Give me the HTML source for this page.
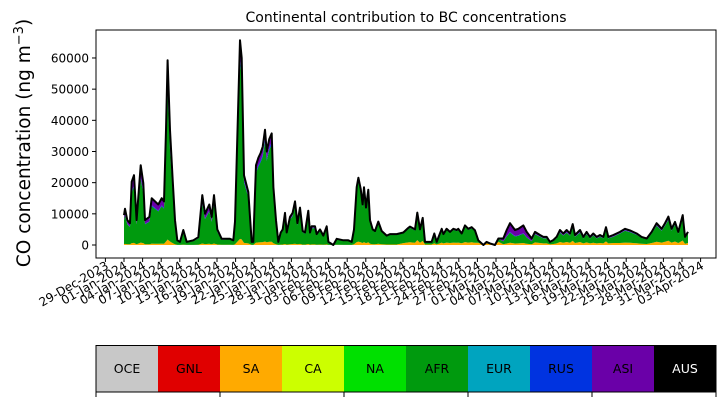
<!DOCTYPE html>
<html><head><meta charset="utf-8"><style>
body{margin:0;background:#fff;}
svg{display:block;font-family:"DejaVu Sans","Liberation Sans",sans-serif;}
</style></head><body>
<svg id="chart" width="725" height="402" viewBox="0 0 725 402" xmlns="http://www.w3.org/2000/svg">
<text x="406" y="22" font-size="14" text-anchor="middle">Continental contribution to BC concentrations</text>
<text transform="translate(30,143) rotate(-90)" font-size="18.5" text-anchor="middle">CO concentration (ng m<tspan dy="-7" font-size="13">−3</tspan><tspan dy="7">)</tspan></text>
<g id="plot"></g>
<g id="xt"></g>
<g id="yt"></g>
<g id="cb"></g>
</svg>
<script>
// days since 01-Jan-2024 and total concentration
const days=[0,0.16,0.54,0.97,1.24,1.61,2.04,2.69,3.12,3.39,4.09,4.46,5.0,5.54,6.08,6.45,6.77,7.04,7.42,7.85,8.23,8.6,9.03,9.57,10.11,11.18,11.99,12.63,13.06,13.76,14.14,14.52,15.05,15.75,17.1,17.63,17.9,18.71,18.98,19.35,20.05,20.59,20.86,21.29,21.67,22.04,22.37,22.74,23.01,23.44,23.82,24.09,24.52,24.89,25.27,25.59,25.97,26.24,26.77,27.2,27.58,27.96,28.39,28.82,29.19,29.73,30.0,30.27,30.81,31.08,31.61,32.15,32.69,32.96,33.76,34.3,35.38,36.18,36.72,37.1,37.53,37.8,38.17,38.49,38.71,39.03,39.41,39.68,40.11,40.48,41.02,41.56,42.37,42.9,43.98,45.05,45.86,46.13,46.94,47.31,47.74,48.17,48.55,49.62,50.05,50.43,51.24,51.51,52.04,52.58,53.12,53.66,53.92,54.46,55.0,55.54,56.08,56.61,57.15,57.96,58.49,59.03,59.84,60.38,61.18,61.72,62.26,63.06,63.6,64.41,64.95,65.75,66.29,67.1,67.63,68.17,68.71,69.25,69.78,70.32,70.86,71.4,71.94,72.37,72.74,73.55,74.09,74.62,75.16,75.7,76.24,76.77,77.31,77.74,78.12,78.92,80.0,80.81,81.61,82.69,83.49,84.3,85.11,85.91,86.72,87.26,87.8,88.33,88.87,89.41,90.11,90.48,90.97];
const totals=[9600,11600,8000,7000,20300,22400,8000,25600,19900,8000,9000,15000,14000,13000,15000,14000,36900,59300,36900,20800,8000,1500,1000,4800,1000,1500,2500,16000,10000,13000,9000,16000,5000,2000,2000,1500,7500,65700,60000,22400,17000,1000,1000,25600,28000,29500,31500,37000,30000,34000,35800,18500,8000,1000,4000,5000,10300,4000,9000,10300,14000,7000,12000,4500,4000,11000,4000,6000,6000,3500,5000,3000,6000,1000,0,2000,1500,1500,1000,5000,18600,21600,18000,13000,18500,12000,17700,8000,5000,4500,7500,4500,3000,3500,3500,4000,5500,5900,5000,10400,5000,8700,1000,1000,3700,1000,5200,3500,5200,4200,5200,4800,5200,3700,6300,5200,5700,4700,1500,0,1000,500,0,2100,2100,4800,7000,4800,5200,6300,4200,2100,4200,3200,2600,2600,1000,1600,2600,4800,3700,4800,3700,6700,3200,4800,2600,4200,2600,3700,2600,3200,2600,5700,2600,3200,4200,5200,4700,3700,2600,2100,4200,7000,5200,7000,9100,5200,7400,4200,9600,2600,4200];
// composition by period (start day)
const periodStart=[0,17,37,45,57,61,66,80];
const saShare=[0.03,0.03,0.05,0.15,0.5,0.1,0.2,0.15];
const rusShare=[0.02,0.02,0.01,0.02,0.02,0.03,0.03,0.02];
const asiShare=[0.15,0.08,0.05,0.05,0.05,0.4,0.15,0.1];
const yTicks=[0,10000,20000,30000,40000,50000,60000];
const xTickLabels=["29-Dec-2023","01-Jan-2024","04-Jan-2024","07-Jan-2024","10-Jan-2024","13-Jan-2024","16-Jan-2024","19-Jan-2024","22-Jan-2024","25-Jan-2024","28-Jan-2024","31-Jan-2024","03-Feb-2024","06-Feb-2024","09-Feb-2024","12-Feb-2024","15-Feb-2024","18-Feb-2024","21-Feb-2024","24-Feb-2024","27-Feb-2024","01-Mar-2024","04-Mar-2024","07-Mar-2024","10-Mar-2024","13-Mar-2024","16-Mar-2024","19-Mar-2024","22-Mar-2024","25-Mar-2024","28-Mar-2024","31-Mar-2024","03-Apr-2024"];
const regions=["OCE","GNL","SA","CA","NA","AFR","EUR","RUS","ASI","AUS"];
const regionColors=["#c8c8c8","#e00000","#ffaa00","#ccff00","#00e000","#009a0e","#00a4bf","#0033e0","#6a00a8","#000000"];

const NS="http://www.w3.org/2000/svg";
function mk(t,a,p){const e=document.createElementNS(NS,t);for(const k in a)e.setAttribute(k,a[k]);p.appendChild(e);return e;}
const L=96,R=716,T=30,B=258;
const X=d=>124+d*6.2;
const Y=v=>245-v*0.003117;
const plot=document.getElementById('plot');
function share(arr,d){let i=0;for(let k=0;k<periodStart.length;k++)if(d>=periodStart[k])i=k;return arr[i];}
const layers=[
 {n:'SA',c:regionColors[2],f:d=>share(saShare,d)},
 {n:'AFR',c:regionColors[5],f:d=>1-share(saShare,d)-share(rusShare,d)-share(asiShare,d)},
 {n:'RUS',c:regionColors[7],f:d=>share(rusShare,d)},
 {n:'ASI',c:regionColors[8],f:d=>share(asiShare,d)}
];
let base=days.map(()=>0);
layers.forEach(ly=>{
  const top=days.map((d,i)=>base[i]+totals[i]*ly.f(d));
  let p='M'+days.map((d,i)=>X(d).toFixed(1)+','+Y(top[i]).toFixed(1)).join('L');
  for(let i=days.length-1;i>=0;i--)p+='L'+X(days[i]).toFixed(1)+','+Y(base[i]).toFixed(1);
  const e=mk('path',{d:p+'Z',fill:ly.c},plot);
  
  
  base=top;
});
const ln=mk('path',{d:'M'+days.map((d,i)=>X(d).toFixed(1)+','+Y(totals[i]).toFixed(1)).join('L'),fill:'none',stroke:'#000','stroke-width':2,'stroke-linejoin':'round'},plot);


const fr=mk('rect',{x:L,y:T,width:R-L,height:B-T,fill:'none',stroke:'#000','stroke-width':1},plot);


const yt=document.getElementById('yt');
yTicks.forEach(v=>{
  const y=Y(v);
  mk('line',{x1:L-4,x2:L,y1:y,y2:y,stroke:'#000'},yt);
  const t=mk('text',{x:L-7,y:y+4.5,'font-size':12,'text-anchor':'end'},yt);
  t.textContent=v;
  
  
});
const xt=document.getElementById('xt');
xTickLabels.forEach((s,i)=>{
  const x=X(-3+3*i);
  mk('line',{x1:x,x2:x,y1:B,y2:B+4,stroke:'#000'},xt);
  const t=mk('text',{transform:`translate(${x+4},${B+10}) rotate(-30)`,'font-size':12,'text-anchor':'end'},xt);
  t.textContent=s;
  
  
});
const cb=document.getElementById('cb');
const w=(R-L)/regions.length;
regions.forEach((r,i)=>{
  const g=mk('rect',{x:L+i*w,y:345.5,width:w+0.5,height:46.5,fill:regionColors[i]},cb);
  
  
  const t=mk('text',{x:L+i*w+w/2,y:373,'font-size':12.5,'text-anchor':'middle',fill:r==='AUS'?'#fff':'#000'},cb);
  t.textContent=r;
  
  
});
mk('rect',{x:L,y:345.5,width:R-L,height:46.5,fill:'none',stroke:'#000'},cb);
for(let i=0;i<=5;i++){const x=L+i*2*w;mk('line',{x1:x,x2:x,y1:392,y2:397,stroke:'#000'},cb);}
</script>
</body></html>
